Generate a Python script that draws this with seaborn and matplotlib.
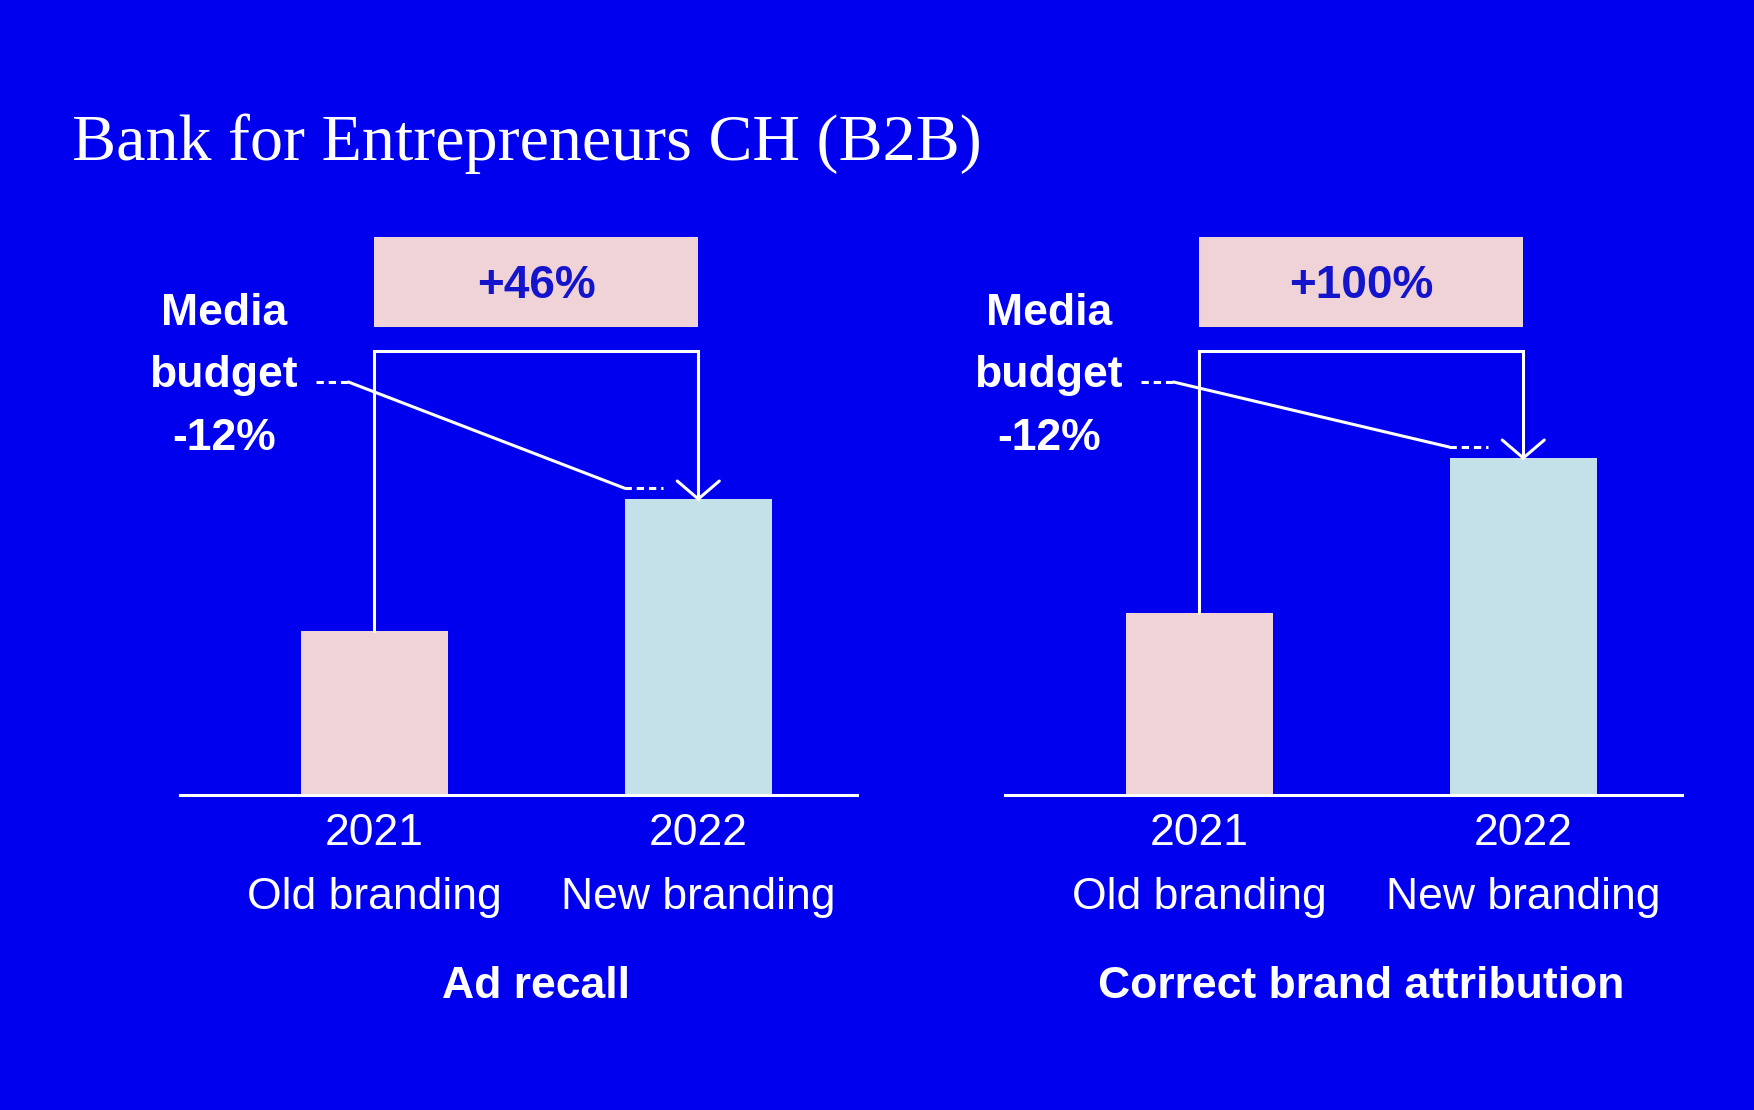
import matplotlib
matplotlib.use("Agg")
import matplotlib.pyplot as plt
import seaborn as sns
import pandas as pd
from matplotlib.patches import Rectangle

# данные (высота столбцов в условных единицах)
years = ["2021", "2022"]
brandings = ["Old branding", "New branding"]
ad_recall = [164, 296]
brand_attribution = [182, 337]
uplift_labels = ["+46%", "+100%"]
panel_titles = ["Ad recall", "Correct brand attribution"]
budget_lines = ["Media", "budget", "-12%"]

# цвета
BG = "#0000ee"
PINK = "#f0d3d7"
LIGHT = "#c4e1e9"
DARK = "#1414cc"
WHITE = "white"

sns.set_theme(style="white")
plt.rcParams["font.family"] = ["Liberation Sans", "DejaVu Sans"]

W, H = 1754, 1110
fig = plt.figure(figsize=(W / 100, H / 100), dpi=100)
fig.patch.set_facecolor(BG)


def fx(px):
    return px / W


def fy(py):
    return 1 - py / H


fig.text(fx(72), fy(160), "Bank for Entrepreneurs CH (B2B)",
         family=["Liberation Serif", "DejaVu Serif"], fontsize=47.5,
         color=WHITE, va="baseline")

labels = [f"{y}\n{b}" for y, b in zip(years, brandings)]
panels = [ad_recall, brand_attribution]
lefts = [180, 1005]
lw = 2.2
dash = (0, (2.4, 1.6))

for vals, left, uplift, title in zip(panels, lefts, uplift_labels, panel_titles):
    ax = fig.add_axes([fx(left), fy(795), 677 / W, 595 / H])
    df = pd.DataFrame({"label": labels, "value": vals})
    sns.barplot(data=df, x="label", y="value", hue="label",
                palette=[PINK, LIGHT], width=0.455, saturation=1,
                legend=False, linewidth=0, ax=ax)
    ax.set_facecolor(BG)
    ax.set_xlim(-0.60, 1.49)
    ax.set_ylim(0, 595)
    sns.despine(ax=ax, left=True)
    ax.spines["bottom"].set_color(WHITE)
    ax.spines["bottom"].set_linewidth(lw)
    ax.set_yticks([])
    ax.set_xlabel("")
    ax.set_ylabel("")
    ax.tick_params(axis="x", length=0, pad=13, labelsize=32, labelcolor=WHITE)
    for lbl in ax.get_xticklabels():
        lbl.set_linespacing(1.72)

    v0, v1 = vals
    # рамка с приростом
    ax.add_patch(Rectangle((0, 468), 1, 90, facecolor=PINK, edgecolor="none"))
    ax.text(0.5, 497, uplift, ha="center", va="baseline", fontsize=33,
            fontweight="bold", color=DARK)

    # скобка со стрелкой
    ax.plot([0, 0, 1, 1], [v0, 444, 444, v1], color=WHITE, lw=lw,
            solid_joinstyle="miter")
    ax.plot([1 - 0.065, 1, 1 + 0.065], [v1 + 18, v1, v1 + 18], color=WHITE, lw=lw)

    # линия медиабюджета
    ax.plot([-0.18, -0.08], [413, 413], color=WHITE, lw=lw, ls=dash)
    ax.plot([-0.08, 0.771], [413, v1 + 11], color=WHITE, lw=lw)
    ax.plot([0.771, 0.89], [v1 + 11, v1 + 11], color=WHITE, lw=lw, ls=dash)

    for txt, yb in zip(budget_lines, [470, 408, 345]):
        ax.text(-0.465, yb, txt, ha="center", va="baseline", fontsize=32,
                fontweight="bold", color=WHITE)

    ax.text(0.5, -(998 - 795) / 595, title, transform=ax.get_xaxis_transform(),
            ha="center", va="baseline", fontsize=32, fontweight="bold",
            color=WHITE)

fig.savefig("out.png", dpi=100, facecolor=BG)
